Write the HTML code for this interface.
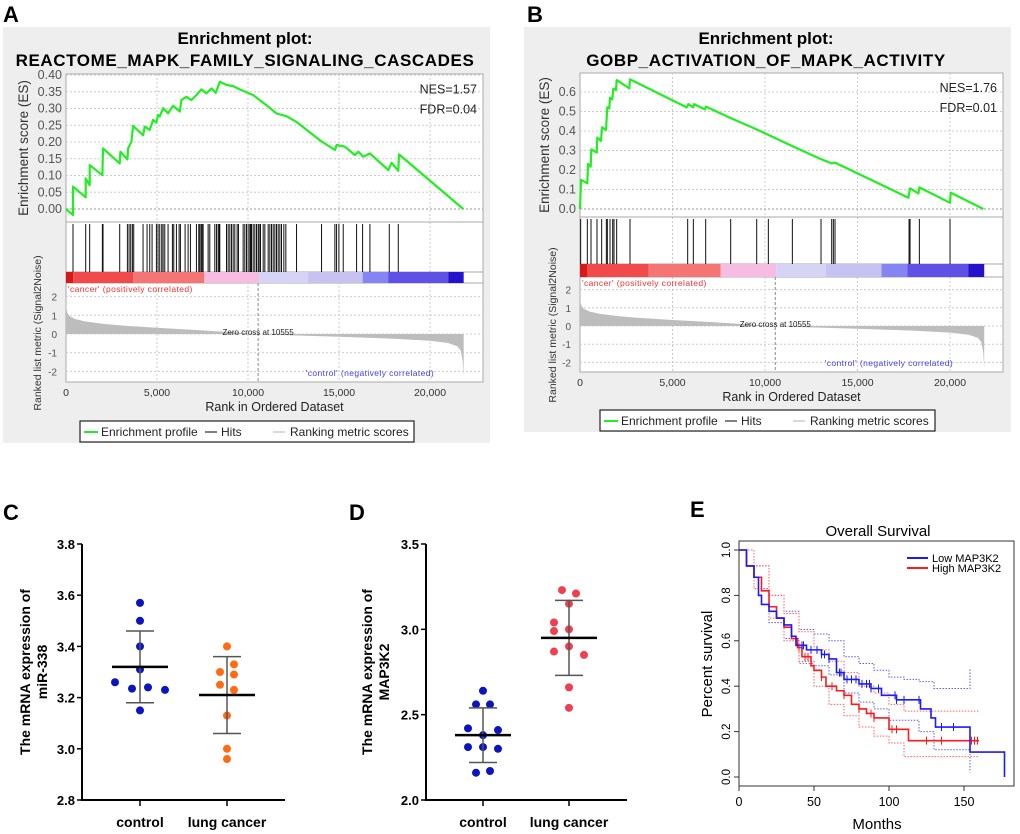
<!DOCTYPE html>
<html><head><meta charset="utf-8"><style>
html,body{margin:0;padding:0;background:#fff;width:1020px;height:834px;overflow:hidden}
svg{display:block;font-family:"Liberation Sans",Arial,sans-serif}
</style></head><body>
<svg id="fig" width="1020" height="834" viewBox="0 0 1020 834" xmlns="http://www.w3.org/2000/svg">
<g id="gA"></g>
<g id="gB"></g>
<g id="gC"></g>
<g id="gD"></g>
<g id="gE"></g>
</svg>
<script>
// ---------- Panel A data ----------
const esRankA = [0,385,385,1082,1082,1301,1301,1998,2035,2951,2988,3373,3410,3593,3685,4234,4326,4601,4784,4968,5059,5151,5334,5609,5884,6251,6342,6617,6892,7167,7442,7717,7993,8231,8451,8818,9184,9551,10284,11017,11567,12117,12667,13950,14775,14867,15325,15875,16058,16333,16700,17708,17892,18258,18295,21830];
const esValA = [0,-0.018,0.067,0.035,0.091,0.071,0.131,0.101,0.181,0.136,0.171,0.148,0.181,0.201,0.248,0.220,0.246,0.236,0.266,0.258,0.281,0.276,0.301,0.286,0.308,0.291,0.325,0.335,0.325,0.340,0.357,0.345,0.360,0.347,0.380,0.370,0.367,0.357,0.340,0.310,0.285,0.277,0.260,0.205,0.176,0.191,0.186,0.161,0.171,0.156,0.166,0.116,0.138,0.114,0.163,0];
const hitsA = [385,1082,1301,1998,2035,2951,3373,3465,3556,3648,3721,4234,4454,4601,4729,4968,5059,5151,5261,5334,5426,5609,5847,5921,6067,6214,6287,6544,6709,6837,7167,7295,7350,7424,7479,7534,7809,7900,8175,8267,8359,8414,8451,8818,8909,9001,9092,9184,9275,9404,9477,9733,9825,9917,10008,10100,10137,10192,10284,10375,10467,10558,10613,10687,10833,10925,11108,11200,11291,11383,11475,11566,11658,11750,11841,11969,12080,12667,14041,14774,14866,14994,15232,15966,16296,16699,17762,18257];
const esTicksA = [0,0.05,0.10,0.15,0.20,0.25,0.30,0.35,0.40];
// ---------- Panel B data ----------
const esRankB = [0,54,396,432,577,613,901,937,1135,1189,1406,1442,1478,1586,1622,1748,1802,1946,1982,2667,2703,5766,5856,6127,6163,6758,6812,8109,9551,11533,12975,13605,13785,17750,17840,18290,18344,20002,20038,21804];
const esValB = [0,0.149,0.132,0.231,0.217,0.306,0.289,0.366,0.349,0.419,0.405,0.470,0.521,0.516,0.571,0.562,0.617,0.610,0.661,0.619,0.665,0.521,0.538,0.521,0.538,0.511,0.525,0.468,0.408,0.320,0.258,0.234,0.238,0.058,0.106,0.080,0.111,0.032,0.084,0];
const hitsB = [36,396,595,919,1171,1424,1478,1622,1766,1838,1982,2703,5820,6127,6794,8145,9551,10181,11479,13028,13605,13695,13785,17786,17840,18344,20002];
const esTicksB = [0,0.1,0.2,0.3,0.4,0.5,0.6];
// shared ranked metric & colour bar
const metricRank = [0,60,200,500,1000,2000,3000,5000,7000,9000,10555,12000,15000,18000,20000,21000,21500,21700,21800,21850];
const metricVal = [1.55,1.15,0.95,0.8,0.68,0.55,0.46,0.33,0.22,0.1,0,-0.06,-0.15,-0.25,-0.36,-0.48,-0.65,-0.9,-1.5,-2.3];
const metricTicks = [2,1,0,-1,-2];
const rankTicks = [0,5000,10000,15000,20000];
const rankTickLabels = ["0","5,000","10,000","15,000","20,000"];
const barStart = [0,400,3700,7600,10600,13300,16300,17700,21000];
const barEnd = [400,3700,7600,10600,13300,16300,17700,21000,21850];
const barColor = ["#d81818","#f04a4a","#f57474","#f6bce2","#d6d4f6","#c6c2f2","#8484f2","#5f50e6","#2412cc"];
// ---------- Panel C data ----------
const cCats = ["control","lung cancer"];
const cControl = [3.57,3.50,3.40,3.31,3.26,3.235,3.24,3.23,3.15];
const cCancer = [3.40,3.33,3.30,3.29,3.25,3.23,3.13,3.00,2.96];
const cJitControl = [0,0,0,0,-25,-8,8,25,0];
const cJitCancer = [0,7,-7,7,-7,7,0,0,0];
const cMean = [3.32,3.21];
const cSdHi = [3.46,3.36];
const cSdLo = [3.18,3.06];
const cTicks = [2.8,3.0,3.2,3.4,3.6,3.8];
const cTickLabels = ["2.8","3.0","3.2","3.4","3.6","3.8"];
// ---------- Panel D data ----------
const dCats = ["control","lung cancer"];
const dControl = [2.64,2.56,2.56,2.42,2.41,2.38,2.31,2.31,2.30,2.16,2.17];
const dCancer = [3.23,3.21,3.15,3.04,2.99,3.00,2.87,2.90,2.85,2.66,2.54];
const dJitControl = [0,-7,7,-15,15,0,-15,0,15,-7,7];
const dJitCancer = [-7,7,0,-15,-15,0,-15,0,15,0,0];
const dMean = [2.38,2.95];
const dSdHi = [2.54,3.17];
const dSdLo = [2.22,2.73];
const dTicks = [2.0,2.5,3.0,3.5];
const dTickLabels = ["2.0","2.5","3.0","3.5"];
// ---------- Panel E data ----------
const lowMonths = [0,5,10,13,15,20,25,30,35,38,45,55,60,65,70,80,88,95,105,121,128,131,154,177];
const lowSurv = [1.0,0.93,0.88,0.80,0.76,0.73,0.70,0.67,0.62,0.58,0.56,0.54,0.52,0.46,0.43,0.41,0.39,0.36,0.34,0.30,0.26,0.22,0.11,0.0];
const highMonths = [0,5,10,15,20,25,30,35,39,42,48,50,55,58,65,70,75,80,85,90,100,113,160];
const highSurv = [1.0,0.93,0.88,0.82,0.75,0.70,0.66,0.61,0.57,0.53,0.49,0.47,0.44,0.40,0.38,0.36,0.32,0.30,0.28,0.26,0.21,0.16,0.16];
const lowBandMonths = [0,10,20,30,40,50,60,70,80,90,100,110,120,130,154];
const lowUpper = [1.0,0.93,0.80,0.73,0.65,0.63,0.60,0.53,0.50,0.47,0.44,0.43,0.42,0.39,0.48];
const lowLower = [1.0,0.83,0.68,0.61,0.51,0.49,0.45,0.37,0.33,0.30,0.25,0.25,0.20,0.12,0.02];
const highBandMonths = [0,10,20,30,40,50,60,70,80,90,100,110,125,160];
const highUpper = [1.0,0.93,0.80,0.72,0.64,0.56,0.51,0.46,0.40,0.37,0.32,0.29,0.29,0.29];
const highLower = [1.0,0.83,0.70,0.60,0.50,0.40,0.32,0.27,0.22,0.18,0.15,0.09,0.09,0.09];
const lowCensor = [42,43,48,52,55,57,60,67,68,72,75,78,82,85,87,88,93,104,105,110,120,135,143];
const highCensor = [40,44,46,55,62,70,80,88,90,102,105,125,135,155,157,159];
const eTicksX = [0,50,100,150];
const eTicksY = [0,0.2,0.4,0.6,0.8,1.0];
const eTickYLabels = ["0.0","0.2","0.4","0.6","0.8","1.0"];

const NS = "http://www.w3.org/2000/svg";
function mk(tag, attrs, parent, txt){
  const el = document.createElementNS(NS, tag);
  for (const k in attrs) el.setAttribute(k, attrs[k]);
  if (txt !== undefined) el.textContent = txt;
  parent.appendChild(el);
  return el;
}
function stepPath(xs, ys, fx, fy){
  let d = "M" + fx(xs[0]) + "," + fy(ys[0]);
  for (let i = 1; i < xs.length; i++){ d += " H" + fx(xs[i]) + " V" + fy(ys[i]); }
  return d;
}
function linePath(xs, ys, fx, fy){
  return xs.map((x,i)=>(i?"L":"M")+fx(x).toFixed(1)+","+fy(ys[i]).toFixed(1)).join(" ");
}

// ---------- GSEA panel builder ----------
function gsea(g, cfg, esRank, esVal, hits, esTicks){
  const fx = r => cfg.x0 + r*cfg.rs;
  const fy = v => cfg.es0 - v*cfg.esk;
  const fm = v => cfg.m0 - v*cfg.mk;
  let el;
  el = mk("rect",{x:cfg.bgx,y:cfg.bgy,width:cfg.bgw,height:cfg.bgh,fill:"#eeeeee"},g);
  
  
  el = mk("text",{x:cfg.tx,y:cfg.bgy+17,"text-anchor":"middle","font-size":"17","font-weight":"bold"},g,"Enrichment plot:");
  
  
  el = mk("text",{x:cfg.tx,y:cfg.bgy+39,"text-anchor":"middle","font-size":"17","font-weight":"bold","letter-spacing":"0.6"},g,cfg.title);
  
  
  el = mk("rect",{x:cfg.x0,y:cfg.top,width:cfg.x1-cfg.x0,height:cfg.bot-cfg.top,fill:"#fff",stroke:"#aaa","stroke-width":"1"},g);
  
  
  rankTicks.forEach((t,i)=>{
    if (i===0) return;
    const l = mk("line",{x1:fx(t),x2:fx(t),y1:cfg.top,y2:cfg.bot,stroke:"#ccc","stroke-dasharray":"2,2"},g);
    
    
  });
  esTicks.forEach((t,i)=>{
    const l = mk("line",{x1:cfg.x0,x2:cfg.x1,y1:fy(t),y2:fy(t),stroke:i===0?"#999":"#ccc","stroke-dasharray":"2,2"},g);
    
    
    const tx = mk("text",{x:cfg.x0-4,y:fy(t)+4,"text-anchor":"end","font-size":"12.5",fill:"#555"},g,cfg.esFmt(t));
    
    
  });
  metricTicks.forEach(t=>{
    const l = mk("line",{x1:cfg.x0,x2:cfg.x1,y1:fm(t),y2:fm(t),stroke:"#ccc","stroke-dasharray":"2,2"},g);
    
    
    const tx = mk("text",{x:cfg.x0-9,y:fm(t)+4,"text-anchor":"end","font-size":"10",fill:"#555"},g,String(t));
    
    
  });
  [cfg.esBot,cfg.barTop,cfg.barBot].forEach(y=>{
    const l = mk("line",{x1:cfg.x0,x2:cfg.x1,y1:y,y2:y,stroke:"#aaa"},g);
    
    
  });
  hits.forEach(h=>{
    const l = mk("line",{x1:fx(h),x2:fx(h),y1:cfg.esBot+2,y2:cfg.barTop,stroke:"#111","stroke-width":"1"},g);
    
    
  });
  barStart.forEach((s,i)=>{
    const r = mk("rect",{x:fx(s),y:cfg.barTop,width:fx(barEnd[i])-fx(s),height:cfg.barBot-cfg.barTop,fill:barColor[i]},g);
    
    
  });
  let d = "M"+fx(0)+","+fm(0)+" "+metricRank.map((r,i)=>"L"+fx(r).toFixed(1)+","+fm(metricVal[i]).toFixed(1)).join(" ")+" L"+fx(metricRank[metricRank.length-1])+","+fm(0)+"Z";
  el = mk("path",{d:d,fill:"#bdbdbd"},g);
  
  
  el = mk("line",{x1:fx(10555),x2:fx(10555),y1:cfg.barBot,y2:cfg.bot,stroke:"#888","stroke-dasharray":"3,2"},g);
  
  
  el = mk("text",{x:fx(10555),y:fm(0)+1,"text-anchor":"middle","font-size":"8",fill:"#222"},g,"Zero cross at 10555");
  
  
  el = mk("text",{x:cfg.x0+2,y:cfg.barBot+9,"font-size":"8.5",fill:"#f03030","letter-spacing":"0.4"},g,"'cancer' (positively correlated)");
  
  
  el = mk("text",{x:fx(16700),y:cfg.bot-6,"text-anchor":"middle","font-size":"8.5",fill:"#4040f0","letter-spacing":"0.4"},g,"'control' (negatively correlated)");
  
  
  el = mk("path",{d:linePath(esRank,esVal,fx,fy),fill:"none",stroke:"#22ee22","stroke-width":"2.2","stroke-linejoin":"round"},g);
  
  
  el = mk("text",{x:cfg.x1-6,y:fy(cfg.nesY),"text-anchor":"end","font-size":"12.5",fill:"#222"},g,cfg.nes);
  
  
  el = mk("text",{x:cfg.x1-6,y:fy(cfg.nesY)+20,"text-anchor":"end","font-size":"12.5",fill:"#222"},g,cfg.fdr);
  
  
  rankTicks.forEach((t,i)=>{
    const tx = mk("text",{x:fx(t),y:cfg.bot+14,"text-anchor":"middle","font-size":"10.5",fill:"#333"},g,rankTickLabels[i]);
    
    
  });
  el = mk("text",{x:(cfg.x0+cfg.x1)/2,y:cfg.bot+29,"text-anchor":"middle","font-size":"12.5",fill:"#222"},g,"Rank in Ordered Dataset");
  
  
  el = mk("text",{x:0,y:0,"text-anchor":"middle","font-size":"13.5",fill:"#333",transform:"translate("+cfg.esLabX+","+((cfg.top+cfg.esBot)/2)+") rotate(-90)"},g,"Enrichment score (ES)");
  
  
  el = mk("text",{x:0,y:0,"text-anchor":"middle","font-size":"10.5",fill:"#333",transform:"translate("+cfg.mLabX+","+cfg.mLabY+") rotate(-90)"},g,"Ranked list metric (Signal2Noise)");
  
  
  el = mk("rect",{x:cfg.lx,y:cfg.ly,width:cfg.lw,height:21,fill:"#fff",stroke:"#222","stroke-width":"1.2"},g);
  
  
  el = mk("line",{x1:cfg.lx+4,x2:cfg.lx+18,y1:cfg.ly+11,y2:cfg.ly+11,stroke:"#22ee22","stroke-width":"2"},g);
  
  
  el = mk("text",{x:cfg.lx+21,y:cfg.ly+15,"font-size":"12",fill:"#222"},g,"Enrichment profile");
  
  
  el = mk("line",{x1:cfg.lx+125,x2:cfg.lx+137,y1:cfg.ly+11,y2:cfg.ly+11,stroke:"#555","stroke-width":"1.5"},g);
  
  
  el = mk("text",{x:cfg.lx+141,y:cfg.ly+15,"font-size":"12",fill:"#222"},g,"Hits");
  
  
  el = mk("line",{x1:cfg.lx+193,x2:cfg.lx+205,y1:cfg.ly+11,y2:cfg.ly+11,stroke:"#ccc","stroke-width":"1.5"},g);
  
  
  el = mk("text",{x:cfg.lx+210,y:cfg.ly+15,"font-size":"12",fill:"#222"},g,"Ranking metric scores");
  
  
  el = mk("text",{x:cfg.letX,y:22,"font-size":"22","font-weight":"bold"},g,cfg.letter);
  
  
}
gsea(document.getElementById("gA"),{
  letter:"A",letX:3,bgx:3,bgy:27,bgw:487,bgh:416,tx:245,title:"REACTOME_MAPK_FAMILY_SIGNALING_CASCADES",
  x0:66,x1:483,rs:(430-66)/20000,top:74,esBot:222,barTop:272,barBot:283,bot:382,
  es0:209,esk:(209-75)/0.4,esFmt:t=>t.toFixed(2),m0:334,mk:18.7,nesY:0.345,
  nes:"NES=1.57",fdr:"FDR=0.04",esLabX:28,mLabX:41,mLabY:333,lx:80,ly:421,lw:334},
  esRankA,esValA,hitsA,esTicksA);
gsea(document.getElementById("gB"),{
  letter:"B",letX:527,bgx:524,bgy:27,bgw:487,bgh:405,tx:766,title:"GOBP_ACTIVATION_OF_MAPK_ACTIVITY",
  x0:580,x1:1003,rs:(950-580)/20000,top:73,esBot:217,barTop:264,barBot:277,bot:372,
  es0:209,esk:195,esFmt:t=>t.toFixed(1),m0:326,mk:18.2,nesY:0.6,
  nes:"NES=1.76",fdr:"FDR=0.01",esLabX:549,mLabX:556,mLabY:325,lx:600,ly:410,lw:335},
  esRankB,esValB,hitsB,esTicksB);

// ---------- Dot plots ----------
function dots(g, cfg, cats, grp1, grp2, jit1, jit2, mean, hi, lo, ticks, tickLabels){
  const fy = v => cfg.yb - (v-cfg.vmin)/(cfg.vmax-cfg.vmin)*(cfg.yb-cfg.yt);
  const xs = [cfg.xc1, cfg.xc2];
  let el;
  el = mk("text",{x:cfg.letX,y:520,"font-size":"22","font-weight":"bold"},g,cfg.letter);
  
  
  el = mk("line",{x1:cfg.ax,x2:cfg.ax,y1:cfg.yt,y2:cfg.yb+1,stroke:"#000","stroke-width":"2"},g);
  
  
  el = mk("line",{x1:cfg.ax-1,x2:cfg.axEnd,y1:cfg.yb,y2:cfg.yb,stroke:"#000","stroke-width":"2"},g);
  
  
  ticks.forEach((t,i)=>{
    const l = mk("line",{x1:cfg.ax-5,x2:cfg.ax,y1:fy(t),y2:fy(t),stroke:"#000","stroke-width":"1.5"},g);
    
    
    const tx = mk("text",{x:cfg.ax-7,y:fy(t)+5,"text-anchor":"end","font-size":"13","font-weight":"bold"},g,tickLabels[i]);
    
    
  });
  cats.forEach((c,i)=>{
    const l = mk("line",{x1:xs[i],x2:xs[i],y1:cfg.yb,y2:cfg.yb+6,stroke:"#000","stroke-width":"1.5"},g);
    
    
    const tx = mk("text",{x:xs[i],y:cfg.yb+27,"text-anchor":"middle","font-size":"14","font-weight":"bold"},g,c);
    
    
  });
  [[grp1,jit1,cfg.col1],[grp2,jit2,cfg.col2]].forEach((gr,k)=>{
    gr[0].forEach((v,j)=>{
      const d = mk("circle",{cx:xs[k]+gr[1][j],cy:fy(v),r:4,fill:gr[2]},g);
      
      
    });
    let l = mk("line",{x1:xs[k],x2:xs[k],y1:fy(hi[k]),y2:fy(lo[k]),stroke:"#555","stroke-width":"1.5"},g);
    
    
    l = mk("line",{x1:xs[k]-14,x2:xs[k]+14,y1:fy(hi[k]),y2:fy(hi[k]),stroke:"#555","stroke-width":"1.5"},g);
    
    
    l = mk("line",{x1:xs[k]-14,x2:xs[k]+14,y1:fy(lo[k]),y2:fy(lo[k]),stroke:"#555","stroke-width":"1.5"},g);
    
    
    l = mk("line",{x1:xs[k]-28,x2:xs[k]+28,y1:fy(mean[k]),y2:fy(mean[k]),stroke:"#000","stroke-width":"2.5"},g);
    
    
  });
  el = mk("text",{x:0,y:0,"text-anchor":"middle","font-size":"14","font-weight":"bold",transform:"translate("+cfg.labX+","+((cfg.yt+cfg.yb)/2)+") rotate(-90)"},g,"The mRNA expression of");
  
  
  el = mk("text",{x:0,y:0,"text-anchor":"middle","font-size":"14","font-weight":"bold",transform:"translate("+(cfg.labX+17)+","+((cfg.yt+cfg.yb)/2)+") rotate(-90)"},g,cfg.gene);
  
  
}
dots(document.getElementById("gC"),{letter:"C",letX:3,ax:82,axEnd:285,yt:544,yb:800,vmin:2.8,vmax:3.8,xc1:140,xc2:227,
  col1:"#0a14c0",col2:"#ff6a12",labX:30,gene:"miR-338"},cCats,cControl,cCancer,cJitControl,cJitCancer,cMean,cSdHi,cSdLo,cTicks,cTickLabels);
dots(document.getElementById("gD"),{letter:"D",letX:349,ax:426,axEnd:627,yt:544,yb:800,vmin:2.0,vmax:3.5,xc1:483,xc2:569,
  col1:"#0a14c0",col2:"#f04050",labX:372,gene:"MAP3K2"},dCats,dControl,dCancer,dJitControl,dJitCancer,dMean,dSdHi,dSdLo,dTicks,dTickLabels);

// ---------- Panel E ----------
(function(){
  const g = document.getElementById("gE");
  const fx = m => 739 + m*1.5;
  const fy = s => 777 - s*227;
  const stepAt = (xs, ys, m) => { let v = ys[0]; for (let i=0;i<xs.length;i++){ if (xs[i]<=m) v = ys[i]; } return v; };
  let el;
  el = mk("text",{x:690,y:517,"font-size":"22","font-weight":"bold"},g,"E");
  
  
  el = mk("text",{x:878,y:536,"text-anchor":"middle","font-size":"15"},g,"Overall Survival");
  
  
  el = mk("rect",{x:739,y:541,width:275,height:245,fill:"none",stroke:"#333","stroke-width":"1"},g);
  
  
  eTicksX.forEach(t=>{
    const l = mk("line",{x1:fx(t),x2:fx(t),y1:786,y2:791,stroke:"#333"},g);
    
    
    const tx = mk("text",{x:fx(t),y:806,"text-anchor":"middle","font-size":"12.5"},g,String(t));
    
    
  });
  eTicksY.forEach((t,i)=>{
    const l = mk("line",{x1:734,x2:739,y1:fy(t),y2:fy(t),stroke:"#333"},g);
    
    
    const tx = mk("text",{x:0,y:0,"text-anchor":"middle","font-size":"11.5",transform:"translate(730,"+fy(t)+") rotate(-90)"},g,eTickYLabels[i]);
    
    
  });
  el = mk("text",{x:877,y:829,"text-anchor":"middle","font-size":"15"},g,"Months");
  
  
  el = mk("text",{x:0,y:0,"text-anchor":"middle","font-size":"15",transform:"translate(712,664) rotate(-90)"},g,"Percent survival");
  
  
  [[lowBandMonths,lowUpper,"#5a5aff","low-upper-ci"],[lowBandMonths,lowLower,"#5a5aff","low-lower-ci"],
   [highBandMonths,highUpper,"#ff6060","high-upper-ci"],[highBandMonths,highLower,"#ff6060","high-lower-ci"]].forEach(b=>{
    const p = mk("path",{d:stepPath(b[0],b[1],fx,fy),fill:"none",stroke:b[2],"stroke-width":"1","stroke-dasharray":"1.5,1.5"},g);
    
    
  });
  el = mk("path",{d:stepPath(highMonths,highSurv,fx,fy),fill:"none",stroke:"#ff1a1a","stroke-width":"1.6"},g);
  
  
  el = mk("path",{d:stepPath(lowMonths,lowSurv,fx,fy),fill:"none",stroke:"#1a1aff","stroke-width":"1.6"},g);
  
  
  lowCensor.forEach(m=>{
    const y = fy(stepAt(lowMonths,lowSurv,m));
    const c = mk("line",{x1:fx(m),x2:fx(m),y1:y-4,y2:y+4,stroke:"#1a1aff","stroke-width":"1"},g);
    
    
  });
  highCensor.forEach(m=>{
    const y = fy(stepAt(highMonths,highSurv,m));
    const c = mk("line",{x1:fx(m),x2:fx(m),y1:y-4,y2:y+4,stroke:"#ff1a1a","stroke-width":"1"},g);
    
    
  });
  el = mk("line",{x1:907,x2:928,y1:558,y2:558,stroke:"#1a1aff","stroke-width":"2"},g);
  
  
  el = mk("text",{x:932,y:562,"font-size":"11"},g,"Low MAP3K2");
  
  
  el = mk("line",{x1:907,x2:928,y1:568,y2:568,stroke:"#ff1a1a","stroke-width":"2"},g);
  
  
  el = mk("text",{x:932,y:572,"font-size":"11"},g,"High MAP3K2");
  
  
})();
</script>
</body></html>
